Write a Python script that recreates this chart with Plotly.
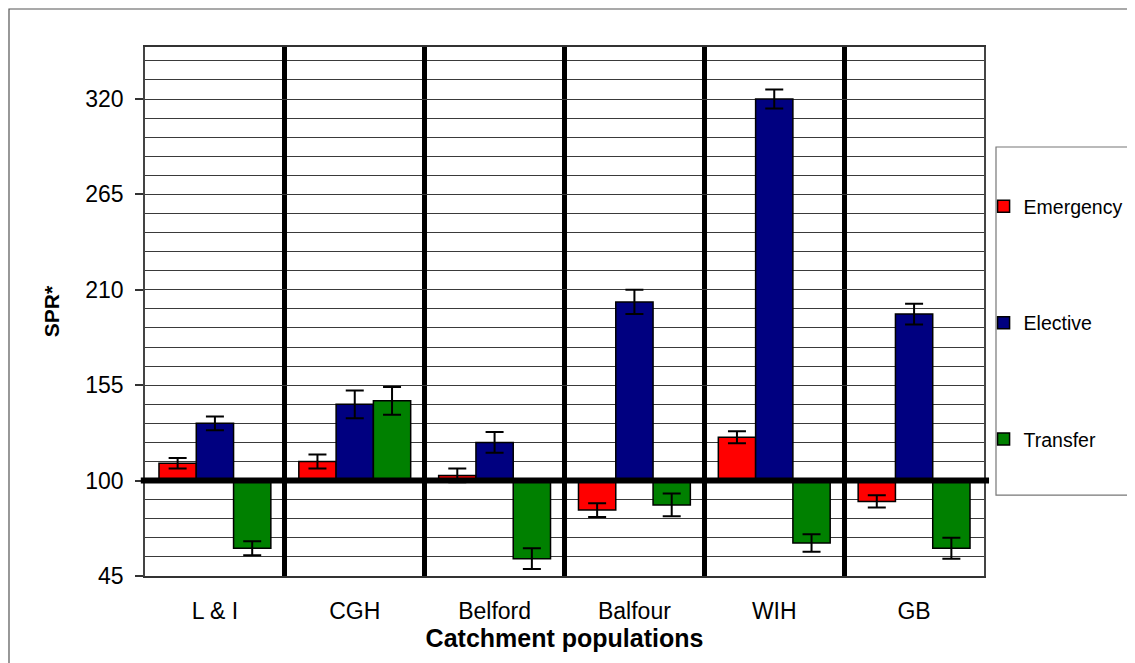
import plotly.graph_objects as go

categories = ["L & I", "CGH", "Belford", "Balfour", "WIH", "GB"]
series_names = ["Emergency", "Elective", "Transfer"]
emergency = [110, 111, 103, 83, 125, 88]
emergency_err = [3, 4, 4, 4, 3.5, 3.5]
elective = [133, 144, 122, 203, 320, 196]
elective_err = [4, 8, 6, 7, 5.5, 6]
transfer = [61, 146, 55, 86, 64, 61]
transfer_err = [4, 8, 6, 6.5, 5, 6]
colors = ["#FF0000", "#000080", "#008000"]
BASE = 100
y_ticks = [45, 100, 155, 210, 265, 320]

FONT = "Liberation Sans, Arial, sans-serif"

fig = go.Figure()
for name, vals, errs, col in zip(series_names,
                                 [emergency, elective, transfer],
                                 [emergency_err, elective_err, transfer_err],
                                 colors):
    fig.add_trace(go.Bar(
        name=name, x=categories, y=[v - BASE for v in vals], base=BASE,
        marker=dict(color=col, line=dict(color="black", width=1.5)),
        error_y=dict(type="data", array=errs, color="black", thickness=2, width=9),
        legendgroup=name,
    ))

fig.update_layout(
    width=1127, height=655,
    paper_bgcolor="white", plot_bgcolor="white",
    barmode="group", bargap=0.2, bargroupgap=0,
    margin=dict(l=137, r=151, t=39, b=87, autoexpand=False),
    font=dict(family=FONT, size=23, color="black"),
    showlegend=True,
    legend=dict(x=0.9995, xanchor="left", y=0.735, yanchor="top",
                font=dict(size=19.5), tracegroupgap=88,
                bgcolor="rgba(0,0,0,0)", borderwidth=0, traceorder="grouped"),
    xaxis=dict(
        type="category", tickson="boundaries", showgrid=True,
        gridcolor="black", gridwidth=5, ticks="", ticklabelstandoff=14,
        showline=True, linecolor="#333", linewidth=1.5, mirror=True,
        title=dict(text="<b>Catchment populations</b>", font=dict(size=25), standoff=0),
        tickfont=dict(size=23),
    ),
    yaxis=dict(
        range=[45, 350], tickvals=y_ticks, ticks="outside", ticklen=8,
        tickcolor="#333", tickwidth=1.5, ticklabelstandoff=7,
        showgrid=True, gridcolor="#3a3a3a", gridwidth=1,
        minor=dict(dtick=11, tick0=45, showgrid=True, gridcolor="#3a3a3a", gridwidth=1),
        showline=True, linecolor="#444", linewidth=1.5, mirror=True,
        zeroline=False,
        title=dict(text="<b>SPR*</b>", font=dict(size=21), standoff=20),
        tickfont=dict(size=23),
    ),
    shapes=[
        dict(type="line", xref="paper", yref="y", x0=-0.005, x1=1.006,
             y0=BASE, y1=BASE, line=dict(color="black", width=6), layer="above"),
        dict(type="rect", xref="paper", yref="paper", x0=1.0143, x1=1.3,
             y0=0.153, y1=0.811, line=dict(color="#777", width=1.2), layer="below"),
        dict(type="rect", xref="paper", yref="paper", x0=-0.1621, x1=1.3,
             y0=-0.3, y1=1.0718, line=dict(color="#555", width=1.2), layer="below"),
    ],
)

fig.write_html("out.html")
